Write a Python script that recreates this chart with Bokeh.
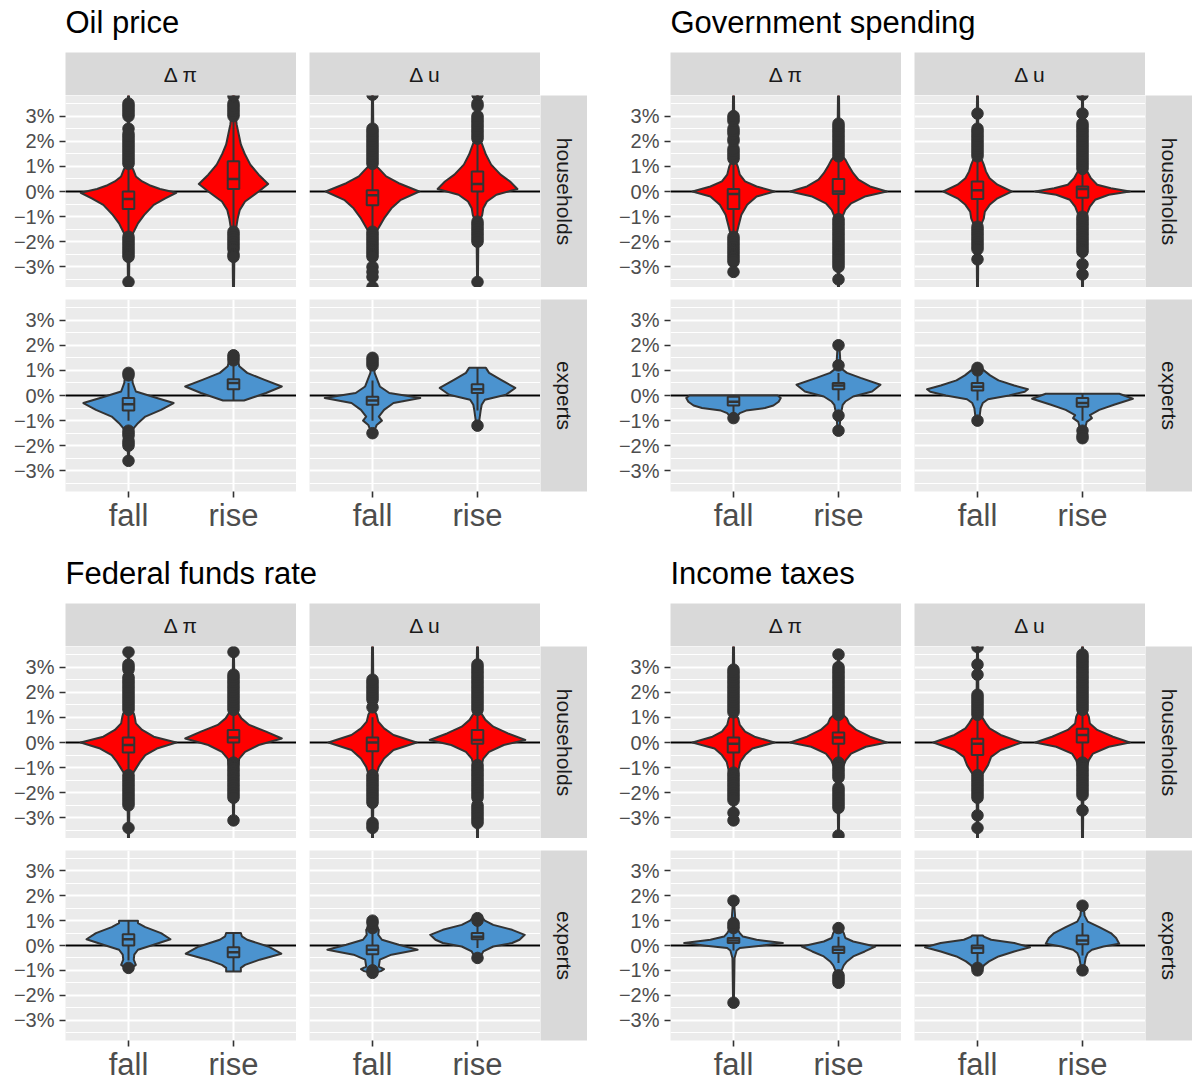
import math
from bokeh.plotting import figure
from bokeh.layouts import row, column, Spacer
from bokeh.models import Range1d, FixedTicker, Span
from bokeh.core.properties import value
from bokeh.embed import file_html
from bokeh.resources import INLINE

# ---------------------------------------------------------------- labels
PANEL_TITLES = ["Oil price", "Government spending", "Federal funds rate", "Income taxes"]
GROUPS = ["households", "experts"]
MEASURES = ["pi", "u"]
MEASURE_LABELS = {"pi": "Δ π", "u": "Δ u"}
CATEGORIES = ["fall", "rise"]
Y_TICKS = [-3, -2, -1, 0, 1, 2, 3]
Y_MINOR = [-3.5, -2.5, -1.5, -0.5, 0.5, 1.5, 2.5, 3.5]

# ---------------------------------------------------------------- data
# violin outlines: (expected change in %, half width in category units)
oil_violins = {
    ("households", "pi", "fall"): [(-4.2, .004), (-2.6, .008), (-1.9, .02), (-1.6, .05), (-1.27, .09), (-0.93, .15), (-0.53, .24), (-0.27, .35), (-0.05, .455), (0.1, .3), (0.25, .2), (0.4, .13), (0.6, .07), (0.87, .045), (1.0, .025), (1.5, .01), (3.0, .006), (4.2, .004)],
    ("households", "pi", "rise"): [(-4.2, .004), (-2.6, .008), (-1.6, .02), (-1.07, .04), (-0.73, .06), (-0.4, .11), (0.0, .24), (0.3, .33), (0.67, .24), (1.07, .16), (1.47, .11), (1.87, .07), (2.27, .05), (2.67, .03), (3.2, .015), (4.2, .004)],
    ("households", "u", "fall"): [(-4.2, .004), (-2.6, .008), (-1.67, .025), (-1.47, .055), (-1.07, .11), (-0.67, .18), (-0.33, .27), (0.0, .445), (0.33, .25), (0.6, .13), (0.87, .07), (1.0, .04), (1.3, .01), (4.2, .004)],
    ("households", "u", "rise"): [(-3.6, .004), (-2.0, .008), (-1.1, .03), (-0.93, .045), (-0.67, .055), (-0.4, .09), (-0.13, .18), (0.1, .38), (0.4, .31), (0.67, .22), (1.07, .13), (1.47, .08), (1.87, .045), (2.1, .02), (3.0, .008), (4.2, .004)],
    ("experts", "pi", "fall"): [(-2.6, .004), (-2.0, .008), (-1.5, .02), (-1.3, .05), (-1.1, .09), (-0.84, .16), (-0.57, .31), (-0.3, .43), (-0.1, .27), (0.16, .07), (0.5, .04), (0.75, .035), (0.9, .02)],
    ("experts", "pi", "rise"): [(-0.2, .1), (0.1, .31), (0.36, .46), (0.63, .29), (0.9, .13), (1.16, .055), (1.43, .04), (1.6, .02)],
    ("experts", "u", "fall"): [(-1.5, .01), (-1.17, .04), (-1.0, .09), (-0.84, .06), (-0.57, .11), (-0.3, .2), (-0.1, .455), (0.1, .16), (0.36, .07), (0.63, .045), (0.9, .02), (1.5, .01)],
    ("experts", "u", "rise"): [(-1.2, .01), (-0.6, .03), (-0.37, .04), (-0.17, .07), (0.03, .27), (0.3, .36), (0.63, .22), (0.9, .11), (1.1, .08)],
}
# box statistics: (lower whisker, q1, median, q3, upper whisker)
oil_boxes = {
    ("households", "pi", "fall"): (-1.7, -0.7, -0.3, 0.0, 1.0),
    ("households", "pi", "rise"): (-1.5, 0.1, 0.5, 1.2, 2.9),
    ("households", "u", "fall"): (-1.5, -0.55, -0.15, 0.05, 1.0),
    ("households", "u", "rise"): (-1.1, 0.0, 0.3, 0.8, 2.0),
    ("experts", "pi", "fall"): (-1.0, -0.6, -0.35, -0.1, 0.5),
    ("experts", "pi", "rise"): (-0.2, 0.25, 0.5, 0.65, 1.2),
    ("experts", "u", "fall"): (-1.0, -0.37, -0.2, -0.05, 0.6),
    ("experts", "u", "rise"): (-0.6, 0.1, 0.25, 0.45, 1.1),
}
oil_outliers = {
    ("households", "pi", "fall"): [1.1, 1.2, 1.3, 1.4, 1.5, 1.6, 1.7, 1.8, 1.9, 2.0, 2.1, 2.2, 2.3, 2.5, 3.0, 3.1, 3.2, 3.3, 3.4, 3.5, -1.8, -1.9, -2.0, -2.1, -2.2, -2.3, -2.4, -2.5, -2.6, -3.6],
    ("households", "pi", "rise"): [3.0, 3.1, 3.2, 3.3, 3.4, 3.5, 3.8, -1.6, -1.7, -1.8, -1.9, -2.0, -2.1, -2.2, -2.3, -2.5, -2.6],
    ("households", "u", "fall"): [1.1, 1.2, 1.3, 1.4, 1.5, 1.6, 1.7, 1.8, 1.9, 2.0, 2.1, 2.2, 2.3, 2.4, 2.5, 3.85, -1.6, -1.7, -1.8, -1.9, -2.0, -2.1, -2.2, -2.3, -2.4, -2.5, -2.6, -3.0, -3.2, -3.4, -3.8],
    ("households", "u", "rise"): [2.1, 2.2, 2.3, 2.4, 2.5, 2.6, 2.7, 2.8, 2.9, 3.0, 3.4, 3.5, 3.85, -1.2, -1.3, -1.4, -1.5, -1.6, -1.7, -1.8, -1.9, -2.0, -3.6],
    ("experts", "pi", "fall"): [0.8, 0.9, -1.4, -1.5, -1.6, -1.8, -1.9, -2.0, -2.6],
    ("experts", "pi", "rise"): [1.4, 1.5, 1.6],
    ("experts", "u", "fall"): [1.2, 1.3, 1.4, 1.5, -1.5],
    ("experts", "u", "rise"): [-1.2],
}

gov_violins = {
    ("households", "pi", "fall"): [(-3.2, .004), (-2.0, .01), (-1.67, .03), (-1.33, .05), (-0.93, .075), (-0.53, .13), (-0.2, .22), (0.0, .39), (0.2, .22), (0.4, .11), (0.67, .06), (1.0, .04), (1.2, .02), (2.0, .008), (4.2, .004)],
    ("households", "pi", "rise"): [(-4.2, .004), (-2.0, .008), (-1.0, .03), (-0.93, .045), (-0.73, .065), (-0.47, .12), (-0.2, .25), (0.0, .46), (0.2, .3), (0.47, .19), (0.73, .14), (1.0, .1), (1.27, .065), (1.4, .04), (1.6, .015), (2.5, .008), (4.2, .004)],
    ("households", "u", "fall"): [(-4.2, .004), (-2.0, .008), (-1.35, .02), (-1.27, .04), (-1.07, .06), (-0.8, .07), (-0.53, .115), (-0.27, .19), (0.0, .325), (0.27, .19), (0.53, .115), (0.8, .08), (1.07, .06), (1.27, .04), (1.35, .02), (2.0, .008), (4.2, .004)],
    ("households", "u", "rise"): [(-4.2, .004), (-2.0, .008), (-0.95, .02), (-0.87, .045), (-0.6, .07), (-0.33, .12), (-0.13, .25), (0.0, .45), (0.13, .27), (0.27, .14), (0.53, .08), (0.8, .045), (0.9, .02), (2.0, .008), (4.2, .004)],
    ("experts", "pi", "fall"): [(-0.9, .02), (-0.8, .04), (-0.7, .06), (-0.6, .12), (-0.5, .3), (-0.4, .38), (-0.25, .43), (-0.1, .45), (0.0, .42)],
    ("experts", "pi", "rise"): [(-1.4, .008), (-0.8, .02), (-0.37, .04), (-0.24, .065), (-0.04, .14), (0.16, .32), (0.43, .4), (0.7, .21), (0.9, .08), (1.03, .04), (1.2, .02), (2.0, .008)],
    ("experts", "u", "fall"): [(-1.0, .015), (-0.5, .03), (-0.3, .05), (-0.15, .1), (0.0, .3), (0.15, .45), (0.25, .48), (0.4, .35), (0.6, .2), (0.8, .12), (1.0, .06), (1.1, .04)],
    ("experts", "u", "rise"): [(-1.7, .01), (-1.4, .02), (-1.05, .04), (-0.9, .09), (-0.78, .07), (-0.57, .16), (-0.37, .3), (-0.13, .48), (0.07, .35)],
}
gov_boxes = {
    ("households", "pi", "fall"): (-1.7, -0.7, -0.1, 0.1, 1.2),
    ("households", "pi", "rise"): (-1.0, -0.1, 0.0, 0.5, 1.3),
    ("households", "u", "fall"): (-1.3, -0.3, 0.05, 0.4, 1.3),
    ("households", "u", "rise"): (-0.9, -0.25, 0.1, 0.2, 0.8),
    ("experts", "pi", "fall"): (-0.8, -0.4, -0.25, -0.05, 0.0),
    ("experts", "pi", "rise"): (-0.2, 0.25, 0.4, 0.5, 0.9),
    ("experts", "u", "fall"): (-0.2, 0.2, 0.35, 0.5, 0.9),
    ("experts", "u", "rise"): (-1.0, -0.45, -0.3, -0.1, 0.1),
}
gov_outliers = {
    ("households", "pi", "fall"): [1.3, 1.4, 1.5, 1.6, 1.7, 2.0, 2.1, 2.3, 2.4, 2.5, 2.8, 2.9, 3.0, -1.8, -1.9, -2.0, -2.1, -2.2, -2.3, -2.4, -2.5, -2.6, -2.7, -2.8, -3.2],
    ("households", "pi", "rise"): [1.4, 1.5, 1.6, 1.7, 1.8, 1.9, 2.0, 2.1, 2.2, 2.3, 2.4, 2.5, 2.6, 2.7, -1.1, -1.2, -1.3, -1.4, -1.5, -1.6, -1.7, -1.8, -1.9, -2.0, -2.1, -2.2, -2.3, -2.4, -2.5, -2.6, -2.7, -2.8, -2.9, -3.0, -3.5],
    ("households", "u", "fall"): [1.4, 1.5, 1.6, 1.7, 1.8, 1.9, 2.0, 2.1, 2.2, 2.3, 2.4, 2.5, 3.1, -1.4, -1.5, -1.6, -1.7, -1.8, -1.9, -2.0, -2.1, -2.2, -2.3, -2.7],
    ("households", "u", "rise"): [0.9, 1.0, 1.1, 1.2, 1.3, 1.4, 1.5, 1.6, 1.7, 1.8, 1.9, 2.0, 2.1, 2.2, 2.3, 2.4, 2.5, 2.6, 2.7, 3.1, 3.85, -1.0, -1.1, -1.2, -1.3, -1.4, -1.5, -1.6, -1.7, -1.8, -1.9, -2.0, -2.1, -2.2, -2.3, -2.4, -2.9, -3.3],
    ("experts", "pi", "fall"): [-0.9],
    ("experts", "pi", "rise"): [1.2, 2.0, -0.8, -1.4],
    ("experts", "u", "fall"): [1.0, 1.1, -1.0],
    ("experts", "u", "rise"): [-1.4, -1.6, -1.7],
}

ffr_violins = {
    ("households", "pi", "fall"): [(-4.2, .004), (-2.5, .008), (-1.3, .03), (-1.24, .04), (-1.04, .07), (-0.77, .11), (-0.5, .16), (-0.24, .27), (0.0, .455), (0.23, .24), (0.5, .13), (0.76, .07), (1.0, .06), (1.16, .05), (1.3, .02), (2.5, .008), (3.6, .004)],
    ("households", "pi", "rise"): [(-3.1, .004), (-2.0, .008), (-1.0, .03), (-0.9, .045), (-0.64, .055), (-0.37, .11), (-0.1, .24), (0.16, .46), (0.43, .31), (0.7, .15), (0.96, .075), (1.16, .045), (1.3, .02), (2.5, .008), (3.6, .004)],
    ("households", "u", "fall"): [(-4.2, .004), (-2.0, .008), (-1.35, .02), (-1.24, .04), (-0.97, .06), (-0.64, .11), (-0.3, .2), (0.0, .42), (0.3, .2), (0.56, .11), (0.83, .055), (1.1, .04), (1.25, .02), (2.0, .008), (4.2, .004)],
    ("households", "u", "rise"): [(-4.2, .004), (-2.0, .008), (-1.0, .02), (-0.9, .04), (-0.64, .055), (-0.37, .11), (-0.1, .25), (0.1, .455), (0.36, .29), (0.63, .15), (0.9, .075), (1.1, .045), (1.25, .02), (2.5, .008), (4.2, .004)],
    ("experts", "pi", "fall"): [(-0.9, .03), (-0.78, .07), (-0.57, .05), (-0.37, .055), (-0.17, .09), (0.03, .24), (0.25, .4), (0.5, .31), (0.74, .16), (0.9, .09), (1.0, .09)],
    ("experts", "pi", "rise"): [(-1.05, .07), (-0.9, .07), (-0.78, .11), (-0.57, .25), (-0.33, .455), (-0.04, .33), (0.23, .13), (0.37, .08), (0.5, .07)],
    ("experts", "u", "fall"): [(-1.1, .02), (-1.03, .08), (-0.95, .11), (-0.85, .06), (-0.57, .07), (-0.37, .18), (-0.17, .43), (0.03, .25), (0.23, .09), (0.43, .055), (0.63, .06), (0.8, .03), (1.0, .02)],
    ("experts", "u", "rise"): [(-0.5, .02), (-0.24, .055), (-0.04, .15), (0.1, .33), (0.23, .4), (0.43, .45), (0.63, .33), (0.83, .15), (1.0, .07), (1.1, .05)],
}
ffr_boxes = {
    ("households", "pi", "fall"): (-1.2, -0.4, -0.1, 0.2, 1.2),
    ("households", "pi", "rise"): (-0.75, 0.0, 0.2, 0.5, 1.2),
    ("households", "u", "fall"): (-1.2, -0.35, 0.0, 0.2, 1.0),
    ("households", "u", "rise"): (-0.8, -0.05, 0.1, 0.5, 1.2),
    ("experts", "pi", "fall"): (-0.6, 0.0, 0.25, 0.45, 1.0),
    ("experts", "pi", "rise"): (-1.05, -0.47, -0.27, -0.07, 0.5),
    ("experts", "u", "fall"): (-0.85, -0.35, -0.17, 0.0, 0.5),
    ("experts", "u", "rise"): (-0.1, 0.25, 0.35, 0.5, 0.9),
}
ffr_outliers = {
    ("households", "pi", "fall"): [1.3, 1.4, 1.5, 1.6, 1.7, 1.8, 1.9, 2.0, 2.1, 2.2, 2.3, 2.4, 2.5, 2.6, 2.9, 3.0, 3.1, 3.6, -1.3, -1.4, -1.5, -1.6, -1.7, -1.8, -1.9, -2.0, -2.1, -2.2, -2.3, -2.4, -2.5, -3.4],
    ("households", "pi", "rise"): [1.3, 1.4, 1.5, 1.6, 1.7, 1.8, 1.9, 2.0, 2.1, 2.2, 2.3, 2.4, 2.5, 2.6, 2.7, 3.6, -0.8, -0.9, -1.0, -1.1, -1.2, -1.3, -1.4, -1.5, -1.6, -1.7, -1.8, -1.9, -2.0, -2.1, -2.2, -3.1],
    ("households", "u", "fall"): [1.4, 1.7, 1.8, 1.9, 2.0, 2.1, 2.2, 2.3, 2.4, 2.5, -1.3, -1.4, -1.5, -1.6, -1.7, -1.8, -1.9, -2.0, -2.1, -2.2, -2.3, -2.4, -3.2, -3.3, -3.4],
    ("households", "u", "rise"): [1.3, 1.4, 1.5, 1.6, 1.7, 1.8, 1.9, 2.0, 2.1, 2.2, 2.3, 2.4, 2.5, 2.6, 2.7, 2.8, 2.9, 3.0, 3.1, -0.9, -1.0, -1.1, -1.2, -1.3, -1.4, -1.5, -1.6, -1.7, -1.8, -1.9, -2.0, -2.1, -2.2, -2.5, -2.6, -2.7, -2.8, -2.9, -3.0, -3.1, -3.2],
    ("experts", "pi", "fall"): [-0.9],
    ("experts", "pi", "rise"): [],
    ("experts", "u", "fall"): [0.7, 0.9, 1.0, -1.0, -1.1],
    ("experts", "u", "rise"): [1.0, 1.1, -0.5],
}

tax_violins = {
    ("households", "pi", "fall"): [(-3.1, .004), (-2.0, .008), (-1.3, .02), (-1.24, .04), (-1.04, .05), (-0.77, .065), (-0.5, .11), (-0.24, .18), (0.0, .39), (0.23, .2), (0.43, .11), (0.7, .06), (0.96, .045), (1.1, .02), (2.0, .008), (4.2, .004)],
    ("households", "pi", "rise"): [(-3.7, .004), (-2.0, .008), (-1.0, .02), (-0.9, .05), (-0.7, .07), (-0.44, .12), (-0.17, .26), (0.0, .46), (0.23, .3), (0.5, .17), (0.76, .1), (0.96, .08), (1.1, .045), (1.2, .02), (2.5, .008), (3.5, .004)],
    ("households", "u", "fall"): [(-4.2, .004), (-2.0, .008), (-1.35, .02), (-1.3, .04), (-1.17, .06), (-0.9, .1), (-0.57, .13), (-0.3, .22), (0.0, .42), (0.3, .22), (0.56, .115), (0.76, .08), (1.03, .04), (1.15, .02), (2.0, .008), (4.2, .004)],
    ("households", "u", "rise"): [(-4.2, .004), (-2.0, .008), (-1.0, .02), (-0.9, .045), (-0.7, .06), (-0.44, .1), (-0.17, .25), (0.0, .45), (0.23, .29), (0.5, .14), (0.76, .07), (1.03, .06), (1.16, .045), (1.3, .02), (2.5, .008), (4.2, .004)],
    ("experts", "pi", "fall"): [(-2.3, .004), (-0.5, .01), (-0.2, .03), (-0.1, .06), (-0.01, .26), (0.1, .47), (0.23, .22), (0.36, .09), (0.5, .06), (0.63, .04), (0.9, .02), (1.8, .004)],
    ("experts", "pi", "rise"): [(-1.5, .01), (-1.0, .03), (-0.8, .05), (-0.64, .08), (-0.44, .14), (-0.24, .25), (-0.04, .35), (0.16, .14), (0.3, .065), (0.5, .05), (0.7, .02)],
    ("experts", "u", "fall"): [(-1.0, .03), (-0.9, .05), (-0.8, .06), (-0.64, .11), (-0.44, .2), (-0.24, .35), (-0.07, .5), (0.1, .35), (0.23, .13), (0.36, .06), (0.4, .05)],
    ("experts", "u", "rise"): [(-1.0, .01), (-0.5, .03), (-0.3, .05), (-0.17, .09), (-0.04, .2), (0.07, .35), (0.3, .32), (0.5, .27), (0.74, .16), (0.96, .05), (1.2, .02), (1.6, .01)],
}
tax_boxes = {
    ("households", "pi", "fall"): (-1.1, -0.4, -0.05, 0.2, 1.1),
    ("households", "pi", "rise"): (-0.75, -0.05, 0.2, 0.4, 1.05),
    ("households", "u", "fall"): (-1.25, -0.5, -0.05, 0.15, 1.0),
    ("households", "u", "rise"): (-0.8, 0.0, 0.3, 0.55, 1.3),
    ("experts", "pi", "fall"): (-0.2, 0.1, 0.2, 0.3, 0.6),
    ("experts", "pi", "rise"): (-0.7, -0.3, -0.17, -0.05, 0.35),
    ("experts", "u", "fall"): (-0.7, -0.3, -0.1, 0.0, 0.4),
    ("experts", "u", "rise"): (-0.4, 0.05, 0.2, 0.4, 0.9),
}
tax_outliers = {
    ("households", "pi", "fall"): [1.2, 1.3, 1.4, 1.5, 1.6, 1.7, 1.8, 1.9, 2.0, 2.1, 2.2, 2.3, 2.4, 2.5, 2.6, 2.7, 2.8, 2.9, -1.2, -1.3, -1.4, -1.5, -1.6, -1.7, -1.8, -1.9, -2.0, -2.1, -2.2, -2.3, -2.8, -3.1],
    ("households", "pi", "rise"): [1.1, 1.2, 1.3, 1.4, 1.5, 1.6, 1.7, 1.8, 1.9, 2.0, 2.1, 2.2, 2.3, 2.4, 2.5, 2.6, 2.7, 2.8, 2.9, 3.0, 3.5, -0.8, -0.9, -1.0, -1.1, -1.2, -1.3, -1.4, -1.8, -1.9, -2.0, -2.1, -2.2, -2.3, -2.4, -2.5, -2.6, -3.7],
    ("households", "u", "fall"): [1.1, 1.2, 1.3, 1.4, 1.5, 1.6, 1.7, 1.8, 1.9, 2.7, 3.1, 3.8, -1.3, -1.4, -1.5, -1.6, -1.7, -1.8, -1.9, -2.0, -2.1, -2.2, -2.9, -3.4],
    ("households", "u", "rise"): [1.3, 1.4, 1.5, 1.6, 1.7, 1.8, 1.9, 2.0, 2.1, 2.2, 2.3, 2.4, 2.5, 2.6, 2.7, 2.8, 2.9, 3.0, 3.1, 3.2, 3.3, 3.4, 3.5, -0.8, -0.9, -1.0, -1.1, -1.2, -1.3, -1.4, -1.5, -1.6, -1.7, -1.8, -1.9, -2.0, -2.1, -2.7],
    ("experts", "pi", "fall"): [0.7, 0.8, 0.9, 1.8, -2.3],
    ("experts", "pi", "rise"): [0.7, -1.2, -1.3, -1.4, -1.5],
    ("experts", "u", "fall"): [-0.9, -1.0],
    ("experts", "u", "rise"): [1.6, -1.0],
}

PANEL_DATA = [
    (oil_violins, oil_boxes, oil_outliers),
    (gov_violins, gov_boxes, gov_outliers),
    (ffr_violins, ffr_boxes, ffr_outliers),
    (tax_violins, tax_boxes, tax_outliers),
]

# ---------------------------------------------------------------- style
FONT = "Liberation Sans"
DARK = "#333333"
PANEL_BG = "#EBEBEB"
STRIP_BG = "#D9D9D9"
FILLS = {"households": "#FF0000", "experts": "#4B93CF"}
Y_LIMITS = (-3.82, 3.82)
X_LIMITS = (0.4, 2.6)
BOX_HALF = 0.055
OUTLINE_W = 2.0

AXIS_W = 65
FACET_W = 231
GAP_X = 13
STRIP_W = 47
PANEL_GAP_X = 18
TITLE_H = 52
STRIP_H = 43
FACET_H = 192
GAP_Y = 12
XAXIS_H = [60, 42]          # x-axis band under the upper / lower panel row
PANEL_W = AXIS_W + FACET_W + GAP_X + FACET_W + STRIP_W


def blank(width, height, bg):
    p = figure(width=width, height=height, x_range=Range1d(0, 1), y_range=Range1d(0, 1),
               x_axis_location=None, y_axis_location=None, tools="",
               toolbar_location=None, output_backend="svg", min_border=0)
    p.grid.visible = False
    p.outline_line_color = None
    p.background_fill_color = bg
    p.border_fill_color = "white"
    return p


def title_fig(text):
    p = figure(width=PANEL_W, height=TITLE_H, x_range=Range1d(0, PANEL_W), y_range=Range1d(0, TITLE_H),
               x_axis_location=None, y_axis_location=None, tools="",
               toolbar_location=None, output_backend="svg", min_border=0)
    p.grid.visible = False
    p.outline_line_color = None
    p.background_fill_color = "white"
    p.border_fill_color = "white"
    p.text(x=[AXIS_W], y=[TITLE_H - 22], text=[text], text_align="left",
           text_baseline="alphabetic", text_font=value(FONT), text_font_size="31px",
           text_color="black")
    return p


def top_strip(label):
    p = blank(FACET_W, STRIP_H, STRIP_BG)
    p.text(x=[0.5], y=[0.5], text=[label], text_align="center", text_baseline="middle",
           text_font=value(FONT), text_font_size="21px", text_color="#1A1A1A")
    return p


def side_strip(label, bottom):
    p = blank(STRIP_W, FACET_H + bottom, STRIP_BG)
    p.min_border_bottom = bottom
    p.text(x=[0.5], y=[0.5], text=[label], angle=-math.pi / 2, text_align="center",
           text_baseline="middle", text_font=value(FONT), text_font_size="21px",
           text_color="#1A1A1A")
    return p


def facet(data, group, measure, show_y, show_x, bottom):
    violins, boxes, outliers = data
    p = figure(width=FACET_W + (AXIS_W if show_y else 0), height=FACET_H + bottom,
               x_range=Range1d(*X_LIMITS), y_range=Range1d(*Y_LIMITS),
               x_axis_location="below" if show_x else None,
               y_axis_location="left" if show_y else None,
               tools="", toolbar_location=None, output_backend="svg", min_border=0)
    p.min_border_left = AXIS_W if show_y else 0
    p.min_border_bottom = bottom
    p.background_fill_color = PANEL_BG
    p.border_fill_color = "white"
    p.outline_line_color = None

    p.ygrid.ticker = FixedTicker(ticks=Y_TICKS, minor_ticks=Y_MINOR)
    p.ygrid.grid_line_color = "white"
    p.ygrid.grid_line_width = 2
    p.ygrid.minor_grid_line_color = "white"
    p.ygrid.minor_grid_line_width = 1
    p.xgrid.ticker = FixedTicker(ticks=[i + 1 for i in range(len(CATEGORIES))])
    p.xgrid.grid_line_color = "white"
    p.xgrid.grid_line_width = 2

    for ax in p.yaxis:
        ax.ticker = FixedTicker(ticks=Y_TICKS)
        ax.major_label_overrides = {t: ("−" if t < 0 else "") + f"{abs(t)}%" for t in Y_TICKS}
        ax.axis_line_color = None
        ax.major_tick_line_color = DARK
        ax.major_tick_line_width = 1.6
        ax.major_tick_in = 0
        ax.major_tick_out = 6
        ax.minor_tick_line_color = None
        ax.major_label_standoff = 5
        ax.major_label_text_font = FONT
        ax.major_label_text_font_size = "20px"
        ax.major_label_text_color = "#4D4D4D"
    for ax in p.xaxis:
        ax.ticker = FixedTicker(ticks=[i + 1 for i in range(len(CATEGORIES))])
        ax.major_label_overrides = {i + 1: c for i, c in enumerate(CATEGORIES)}
        ax.axis_line_color = None
        ax.major_tick_line_color = DARK
        ax.major_tick_line_width = 1.6
        ax.major_tick_in = 0
        ax.major_tick_out = 6
        ax.minor_tick_line_color = None
        ax.major_label_standoff = 0
        ax.major_label_text_font = FONT
        ax.major_label_text_font_size = "31px"
        ax.major_label_text_color = "#4D4D4D"

    p.add_layout(Span(location=0, dimension="width", line_color="black",
                      line_width=2, level="underlay"))

    fill = FILLS[group]
    for i, cat in enumerate(CATEGORIES):
        c = i + 1
        key = (group, measure, cat)
        prof = violins[key]
        ys = [pt[0] for pt in prof]
        hw = [pt[1] for pt in prof]
        xs = [c - w for w in hw] + [c + w for w in reversed(hw)]
        p.patch(xs, ys + ys[::-1], fill_color=fill, line_color=DARK, line_width=OUTLINE_W,
                line_join="round")

        lo, q1, med, q3, hi = boxes[key]
        p.segment(x0=[c, c], y0=[lo, q3], x1=[c, c], y1=[q1, hi], line_color=DARK,
                  line_width=OUTLINE_W)
        p.quad(left=[c - BOX_HALF], right=[c + BOX_HALF], bottom=[q1], top=[q3],
               fill_color=fill, line_color=DARK, line_width=OUTLINE_W)
        p.segment(x0=[c - BOX_HALF], y0=[med], x1=[c + BOX_HALF], y1=[med],
                  line_color=DARK, line_width=2.6)
        pts = outliers[key]
        if pts:
            p.scatter(x=[c] * len(pts), y=pts, size=11.5, color=DARK)
    return p


def panel(idx, bottom):
    data = PANEL_DATA[idx]
    strips = row(Spacer(width=AXIS_W, height=STRIP_H), top_strip(MEASURE_LABELS["pi"]),
                 Spacer(width=GAP_X, height=STRIP_H), top_strip(MEASURE_LABELS["u"]),
                 Spacer(width=STRIP_W, height=STRIP_H))
    rows = []
    for g, group in enumerate(GROUPS):
        last = g == len(GROUPS) - 1
        b = bottom if last else 0
        rows.append(row(
            facet(data, group, "pi", True, last, b),
            Spacer(width=GAP_X, height=FACET_H + b),
            facet(data, group, "u", False, last, b),
            side_strip(group, b),
        ))
        if not last:
            rows.append(Spacer(width=PANEL_W, height=GAP_Y))
    return column(title_fig(PANEL_TITLES[idx]), strips, *rows)


page = column(
    row(panel(0, XAXIS_H[0]), Spacer(width=PANEL_GAP_X, height=10), panel(1, XAXIS_H[0])),
    row(panel(2, XAXIS_H[1]), Spacer(width=PANEL_GAP_X, height=10), panel(3, XAXIS_H[1])),
)

open("out.html", "w").write(file_html(page, INLINE))
